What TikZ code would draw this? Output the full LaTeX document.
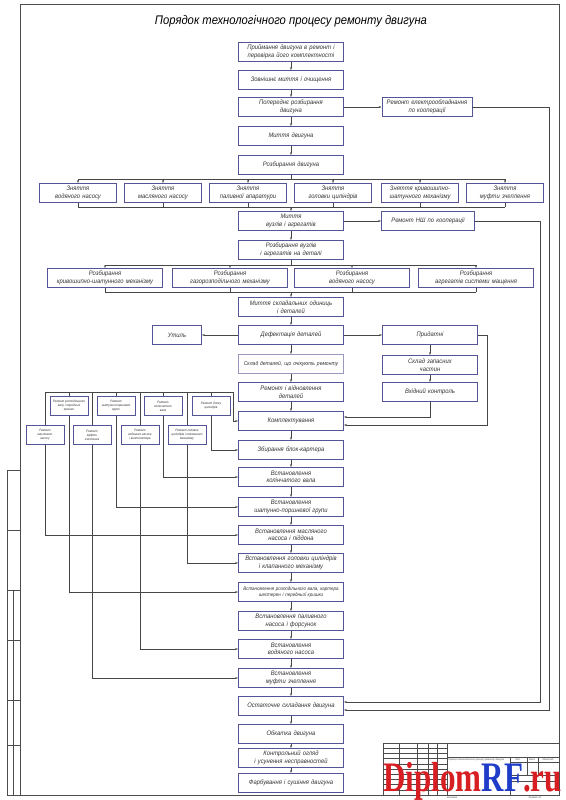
\documentclass[tikz,border=0pt]{standalone}
\usepackage{fontspec}
\setmainfont{Liberation Sans}[FakeStretch=0.9]
\newfontfamily\znakfont{Liberation Serif}
\usetikzlibrary{arrows.meta}

\definecolor{ramka}{RGB}{85,85,150}
\definecolor{liniya}{RGB}{70,70,70}
\definecolor{diplred}{RGB}{215,30,35}
\definecolor{diplblue}{RGB}{30,60,200}

\tikzset{
  etap/.style={draw=ramka,line width=0.9pt,minimum width=105pt,minimum height=19pt,
    text width=101pt,align=center,inner sep=1pt,text=black!80,
    font=\fontsize{6.5}{7.5}\selectfont\itshape},
  bokove/.style={etap,minimum width=77pt,text width=74pt},
  shyroke/.style={etap,minimum width=115pt,text width=112pt},
  dribne/.style={draw=ramka,line width=0.7pt,minimum width=38pt,minimum height=19pt,
    align=center,inner sep=0.5pt,text=black!80,font=\fontsize{3.3}{4}\selectfont\itshape},
  zv/.style={draw=liniya,line width=0.45pt},
  str/.style={zv,-{Stealth[length=3pt,width=2pt]}},
  shtamp/.style={draw=black!70,line width=0.4pt},
  drib/.style={font=\fontsize{2.6}{3}\selectfont\itshape,text=black!70,inner sep=0}
}

\begin{document}
\begin{tikzpicture}[x=1pt,y=-1pt]
\useasboundingbox (0,0) rectangle (565,800);

% ramka arkusha
\draw[line width=0.8pt,black!70] (20,4) rectangle (559,795);
\draw[line width=0.6pt,black!70] (7,470) rectangle (20,795);
\foreach \y in {530,590,640,700,745} \draw[shtamp] (7,\y) -- (20,\y);
\draw[shtamp] (13,590) -- (13,795);

\node[font=\fontsize{12.5}{14}\selectfont\itshape] (nazva) at (291,21) {Порядок технологічного процесу ремонту двигуна};

% osnovnyi potik
\node[etap] (prijom) at (291,52) {Приймання двигуна в ремонт і\\перевірка його комплектності};
\node[etap] (zovn) at (291,80) {Зовнішнє миття і очищення};
\node[etap] (poper) at (291,107) {Попереднє розбирання\\двигуна};
\node[etap] (myt) at (291,136) {Миття двигуна};
\node[etap] (rozb) at (291,165) {Розбирання двигуна};

\node[bokove] (zn1) at (78,193) {Зняття\\водяного насосу};
\node[bokove] (zn2) at (163,193) {Зняття\\масляного насосу};
\node[bokove] (zn3) at (248,193) {Зняття\\паливної апаратури};
\node[bokove] (zn4) at (333,193) {Зняття\\головки циліндрів};
\node[bokove] (zn5) at (420,193) {Зняття кривошипно-\\шатунного механізму};
\node[bokove] (zn6) at (505,193) {Зняття\\муфти зчеплення};

\node[etap] (mytvuz) at (291,221) {Миття\\вузлів і агрегатів};
\node[etap] (rozvuz) at (291,250) {Розбирання вузлів\\і агрегатів на деталі};

\node[shyroke] (rz1) at (105,278) {Розбирання\\кривошипно-шатунного механізму};
\node[shyroke] (rz2) at (230,278) {Розбирання\\газорозподільчого механізму};
\node[shyroke] (rz3) at (352,278) {Розбирання\\водяного насосу};
\node[shyroke] (rz4) at (476,278) {Розбирання\\агрегатів системи мащення};

\node[etap] (mytskl) at (291,307) {Миття складальних одиниць\\і деталей};
\node[etap] (defekt) at (291,335) {Дефектація деталей};
\node[etap,draw=ramka!60,font=\fontsize{5.6}{6.5}\selectfont\itshape] (skldet) at (291,364) {Склад деталей, що очікують ремонту};
\node[etap] (remvid) at (291,392) {Ремонт і відновлення\\деталей};
\node[etap] (komplekt) at (291,421) {Комплектування};
\node[etap] (zbyr) at (291,450) {Збирання блок-картера};
\node[etap] (kolin) at (291,477) {Встановлення\\колінчатого вала};
\node[etap] (shatun) at (291,507) {Встановлення\\шатунно-поршневої групи};
\node[etap] (masl) at (291,535) {Встановлення масляного\\насоса і піддона};
\node[etap] (golov) at (291,563) {Встановлення головки циліндрів\\і клапанного механізму};
\node[etap,font=\fontsize{5}{6.5}\selectfont\itshape] (rozpod) at (291,592) {Встановлення розподільного вала, картера\\шестерен і передньої кришки};
\node[etap] (palyv) at (291,621) {Встановлення паливного\\насоса і форсунок};
\node[etap] (vodyan) at (291,649) {Встановлення\\водяного насоса};
\node[etap] (mufta) at (291,678) {Встановлення\\муфти зчеплення};
\node[etap] (ostat) at (291,706) {Остаточне складання двигуна};
\node[etap] (obkat) at (291,734) {Обкатка двигуна};
\node[etap] (kontrol) at (291,758) {Контрольний огляд\\і усунення несправностей};
\node[etap] (farb) at (291,783) {Фарбування і сушіння двигуна};

% bokovi bloky
\node[etap,minimum width=90pt,text width=87pt] (remel) at (427,107) {Ремонт електрообладнання\\по кооперації};
\node[etap,minimum width=93pt,text width=90pt] (remnsh) at (428,221) {Ремонт НШ по кооперації};
\node[etap,minimum width=49pt,text width=46pt] (utyl) at (177,335) {Утиль};
\node[etap,minimum width=95pt,text width=92pt] (prydatni) at (430,335) {Придатні};
\node[etap,minimum width=95pt,text width=92pt] (sklzap) at (430,365) {Склад запасних\\частин};
\node[etap,minimum width=95pt,text width=92pt] (vkhid) at (430,392) {Вхідний контроль};

% remont vuzliv
\node[dribne] (rrozp) at (69,406) {Ремонт розподільного\\валу і передньої\\кришки};
\node[dribne] (rshat) at (116,406) {Ремонт\\шатунно-поршневої\\групи};
\node[dribne] (rkolin) at (163,406) {Ремонт\\колінчатого\\вала};
\node[dribne] (rblok) at (211,406) {Ремонт блоку\\циліндрів};
\node[dribne] (rmasl) at (45,435) {Ремонт\\масляного\\насосу};
\node[dribne] (rmufta) at (92,435) {Ремонт\\муфти\\зчеплення};
\node[dribne] (rvod) at (140,435) {Ремонт\\водяного насоса\\і вентилятора};
\node[dribne] (rgolov) at (187,435) {Ремонт головки\\циліндрів і клапанного\\механізму};

% zviazky
\foreach \a/\b in {prijom/zovn,zovn/poper,poper/myt,myt/rozb,mytvuz/rozvuz,mytskl/defekt,
  defekt/skldet,skldet/remvid,remvid/komplekt,komplekt/zbyr,zbyr/kolin,kolin/shatun,
  shatun/masl,masl/golov,golov/rozpod,rozpod/palyv,palyv/vodyan,vodyan/mufta,mufta/ostat,
  ostat/obkat,obkat/kontrol,kontrol/farb}
  \draw[str] (\a) -- (\b);

\coordinate (shyna1) at (291,179);
\coordinate (zbir1) at (291,207);
\draw[zv] (rozb) -- (shyna1);
\draw[zv] (zn1.north |- shyna1) -- (zn6.north |- shyna1);
\draw[zv] (zn1.south |- zbir1) -- (zn6.south |- zbir1);
\foreach \n in {zn1,zn2,zn3,zn4,zn5,zn6} {
  \draw[str] (\n.north |- shyna1) -- (\n.north);
  \draw[zv] (\n.south) -- (\n.south |- zbir1);
}
\draw[str] (zbir1) -- (mytvuz);

\coordinate (shyna2) at (291,265);
\coordinate (zbir2) at (291,292);
\draw[zv] (rozvuz) -- (shyna2);
\draw[zv] (rz1.north |- shyna2) -- (rz4.north |- shyna2);
\draw[zv] (rz1.south |- zbir2) -- (rz4.south |- zbir2);
\foreach \n in {rz1,rz2,rz3,rz4} {
  \draw[str] (\n.north |- shyna2) -- (\n.north);
  \draw[zv] (\n.south) -- (\n.south |- zbir2);
}
\draw[str] (zbir2) -- (mytskl);

\draw[str] (poper.east) -- (poper.east -| remel.west);
\draw[str] (mytvuz.east) -- (mytvuz.east -| remnsh.west);
\draw[str] (defekt) -- (utyl);
\draw[str] (defekt) -- (prydatni);
\draw[str] (prydatni) -- (sklzap);
\draw[str] (sklzap) -- (vkhid);

\coordinate (prav1) at (487,335);
\coordinate (prav2) at (540,221);
\coordinate (prav3) at (549,107);
\draw[str] (prydatni.east) -- (prav1) |- ([yshift=-4pt]komplekt.east);
\draw[str] (vkhid.south) |- ([yshift=4pt]komplekt.east);
\draw[str] (remnsh.east) -- (prav2) |- ([yshift=4pt]ostat.east);
\draw[str] (remel.east) -- (prav3) |- ([yshift=-4pt]ostat.east);

\coordinate (shyna3) at (45,392);
\coordinate (shyna3r) at (233,392);
\draw[zv] (shyna3) -- (shyna3r);
\draw[str] (shyna3r) |- (komplekt.west);
\foreach \n in {rrozp,rshat,rkolin,rblok,rmasl,rmufta,rvod,rgolov}
  \draw[zv] (\n.north) -- (\n.north |- shyna3);
\foreach \a/\b in {rblok/zbyr,rkolin/kolin,rshat/shatun,rmasl/masl,rgolov/golov,
  rrozp/rozpod,rvod/vodyan,rmufta/mufta}
  \draw[str] (\a.south) |- (\b.west);

% osnovnyi napys
\draw[line width=0.6pt,black!70] (383,743) rectangle (559,795);
\foreach \x in {399,417,428,437,447} \draw[shtamp] (\x,743) -- (\x,795);
\foreach \y in {748.2,753.4,...,790} \draw[shtamp] (383,\y) -- (447,\y);
\draw[shtamp] (447,757) -- (559,757);
\draw[shtamp] (510,757) -- (510,795);
\draw[shtamp] (527,757) -- (527,775);
\draw[shtamp] (538,757) -- (538,775);
\draw[shtamp] (510,762) -- (559,762);
\draw[shtamp] (510,775) -- (559,775);
\draw[shtamp] (510,781) -- (559,781);
\node[drib] (lit) at (518,759.5) {Лит.};
\node[drib] (masa) at (532,759.5) {Маса};
\node[drib] (mashtab) at (548,759.5) {Масштаб};
\node[drib] (tema) at (476,759.6) {Порядок технологічного процесу ремонту двигуна};
\node[drib] (kopiyuvav) at (452,798) {Копіював};
\node[drib] (format) at (535,798) {Формат А1};

\node[anchor=base west,inner sep=0,font=\znakfont\fontsize{42}{42}\selectfont\bfseries] (znak) at (383,791)
  {\raisebox{0pt}[0.68\height][0pt]{\scalebox{0.74}[1]{\textcolor{diplred}{Diplom}\textcolor{diplblue}{RF}\textcolor{diplred}{.ru}}}};
\end{tikzpicture}
\end{document}
